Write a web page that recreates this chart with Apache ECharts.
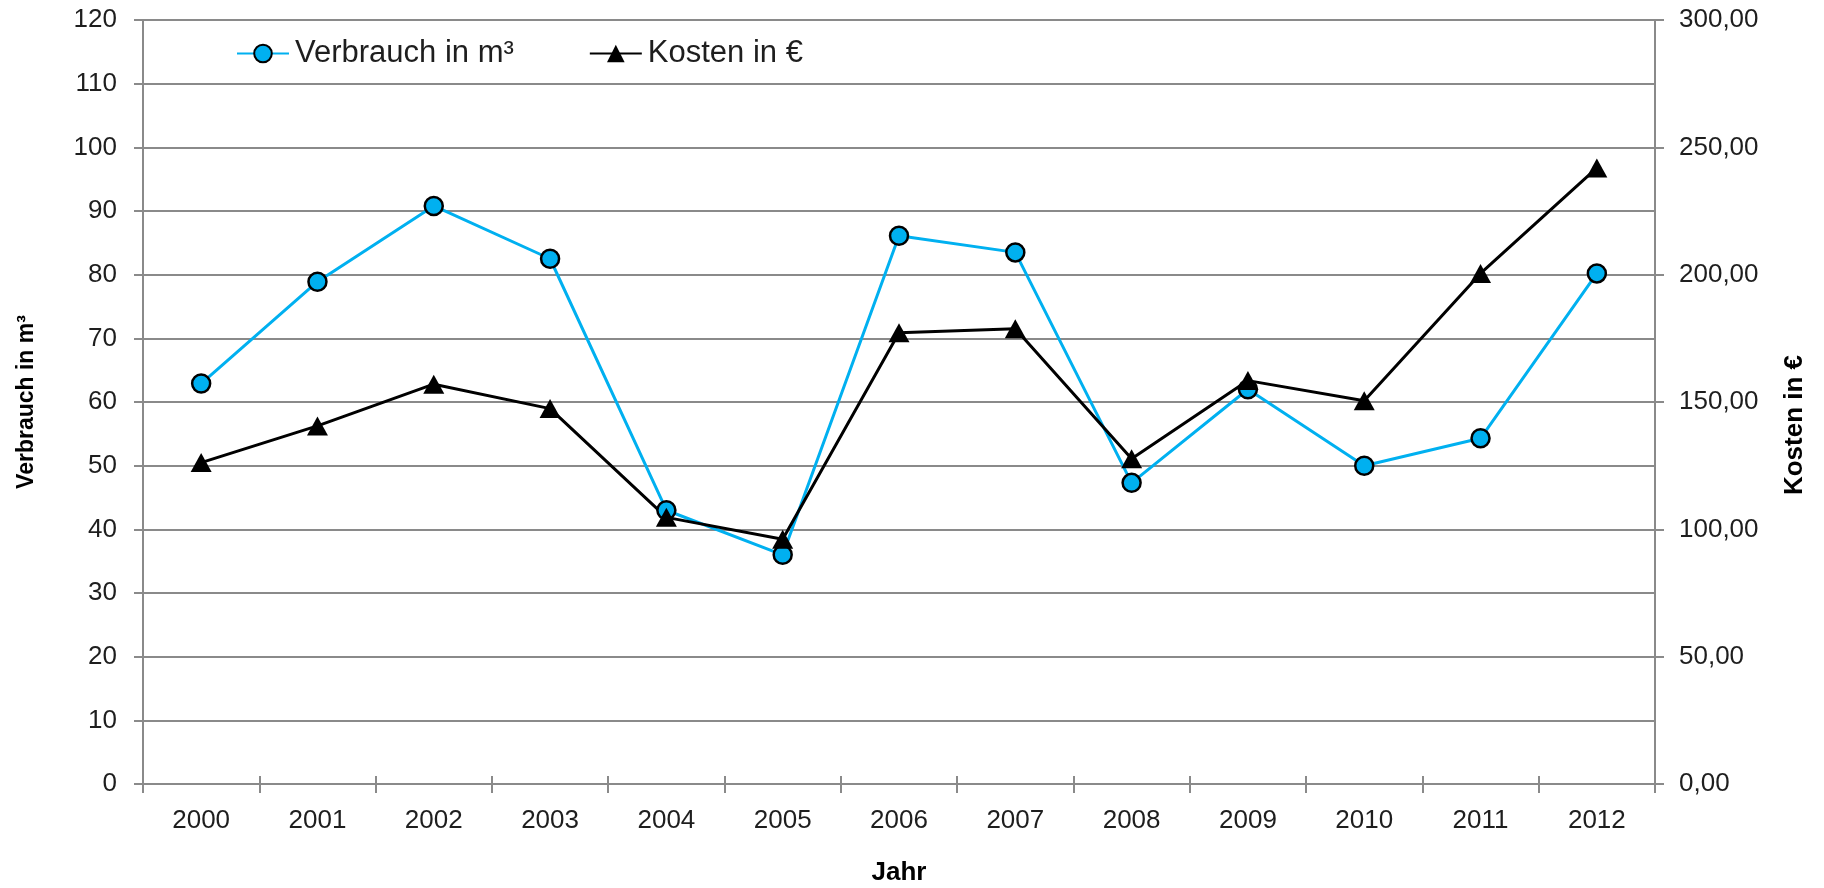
<!DOCTYPE html>
<html>
<head>
<meta charset="utf-8">
<script src="https://cdn.jsdelivr.net/npm/echarts@6/dist/echarts.min.js"></script>
<style>
  html, body { margin: 0; padding: 0; background: #fff; }
  #chart { width: 1824px; height: 888px; }
</style>
</head>
<body>
<div id="chart"></div>
<script>
// Daten
var jahre = ["2000", "2001", "2002", "2003", "2004", "2005", "2006", "2007", "2008", "2009", "2010", "2011", "2012"];
var verbrauch = [62.9, 78.9, 90.8, 82.5, 43.0, 36.0, 86.1, 83.5, 47.3, 62.0, 50.0, 54.3, 80.2];
var kosten = [126.2, 140.6, 157.0, 147.4, 104.7, 96.1, 177.2, 178.8, 127.7, 158.4, 150.5, 200.5, 241.9];

var grau = "#8a8a8a";
var textFarbe = "#1e1e1e";
var font = "'Liberation Sans', Arial, sans-serif";

var chart = echarts.init(document.getElementById("chart"));

var option = {
  animation: false,
  grid: { left: 143, right: 169, top: 20, bottom: 104, containLabel: false, outerBoundsMode: "none" },
  legend: {
    left: 236,
    top: 38,
    padding: 0,
    itemGap: 75,
    itemWidth: 52,
    itemHeight: 22,
    textStyle: {
      fontFamily: font,
      fontSize: 31,
      color: textFarbe,
      padding: [0, 0, 0, 1],
    },
    data: ["Verbrauch in m³", "Kosten in €"],
  },
  xAxis: [
    {
      type: "category",
      data: jahre,
      boundaryGap: true,
      name: "Jahr",
      nameLocation: "middle",
      nameGap: 76,
      nameTextStyle: { fontFamily: font, fontSize: 26, fontWeight: "bold", color: "#000" },
      axisLine: { lineStyle: { color: grau, width: 2 } },
      axisTick: { show: true, interval: 0, length: 9, lineStyle: { color: grau, width: 2 } },
      axisLabel: { margin: 24, fontFamily: font, fontSize: 26, color: textFarbe, interval: 0 },
    },
    {
      // innere Hälfte der Teilstriche (Kreuzmarken)
      type: "category",
      data: jahre,
      position: "bottom",
      offset: 0,
      boundaryGap: true,
      axisLine: { show: false },
      axisTick: { show: true, inside: true, interval: 0, length: 8, lineStyle: { color: grau, width: 2 } },
      axisLabel: { show: false },
    },
  ],
  yAxis: [
    {
      type: "value",
      min: 0,
      max: 120,
      interval: 10,
      name: "Verbrauch in m³",
      nameLocation: "middle",
      nameGap: 105,
      nameRotate: 90,
      nameTextStyle: { fontFamily: font, fontSize: 23, fontWeight: "bold", color: "#000" },
      axisLine: { show: true, lineStyle: { color: grau, width: 2 } },
      axisTick: { show: true, length: 9, lineStyle: { color: grau, width: 2 } },
      axisLabel: { margin: 26, fontFamily: font, fontSize: 26, color: textFarbe },
      splitLine: { show: true, lineStyle: { color: grau, width: 2 } },
    },
    {
      type: "value",
      min: 0,
      max: 300,
      interval: 50,
      position: "right",
      name: "Kosten in €",
      nameLocation: "middle",
      nameGap: 127,
      nameRotate: 90,
      nameTextStyle: { fontFamily: font, fontSize: 26, fontWeight: "bold", color: "#000", padding: [0, 46, 0, 0] },
      axisLine: { show: true, lineStyle: { color: grau, width: 2 } },
      axisTick: { show: true, length: 9, lineStyle: { color: grau, width: 2 } },
      axisLabel: {
        margin: 24,
        fontFamily: font,
        fontSize: 26,
        color: textFarbe,
        formatter: function (v) { return v.toFixed(2).replace(".", ","); },
      },
      splitLine: { show: false },
    },
  ],
  series: [
    {
      name: "Verbrauch in m³",
      type: "line",
      data: verbrauch,
      yAxisIndex: 0,
      symbol: "circle",
      symbolSize: 18,
      color: "#00b0f0",
      lineStyle: { color: "#00b0f0", width: 3 },
      itemStyle: { color: "#00b0f0", borderColor: "#000", borderWidth: 2.5 },
    },
    {
      name: "Kosten in €",
      type: "line",
      data: kosten,
      yAxisIndex: 1,
      symbol: "triangle",
      symbolSize: [21, 19],
      color: "#000",
      lineStyle: { color: "#000", width: 3 },
      itemStyle: { color: "#000" },
    },
  ],
};

chart.setOption(option);
</script>
</body>
</html>
